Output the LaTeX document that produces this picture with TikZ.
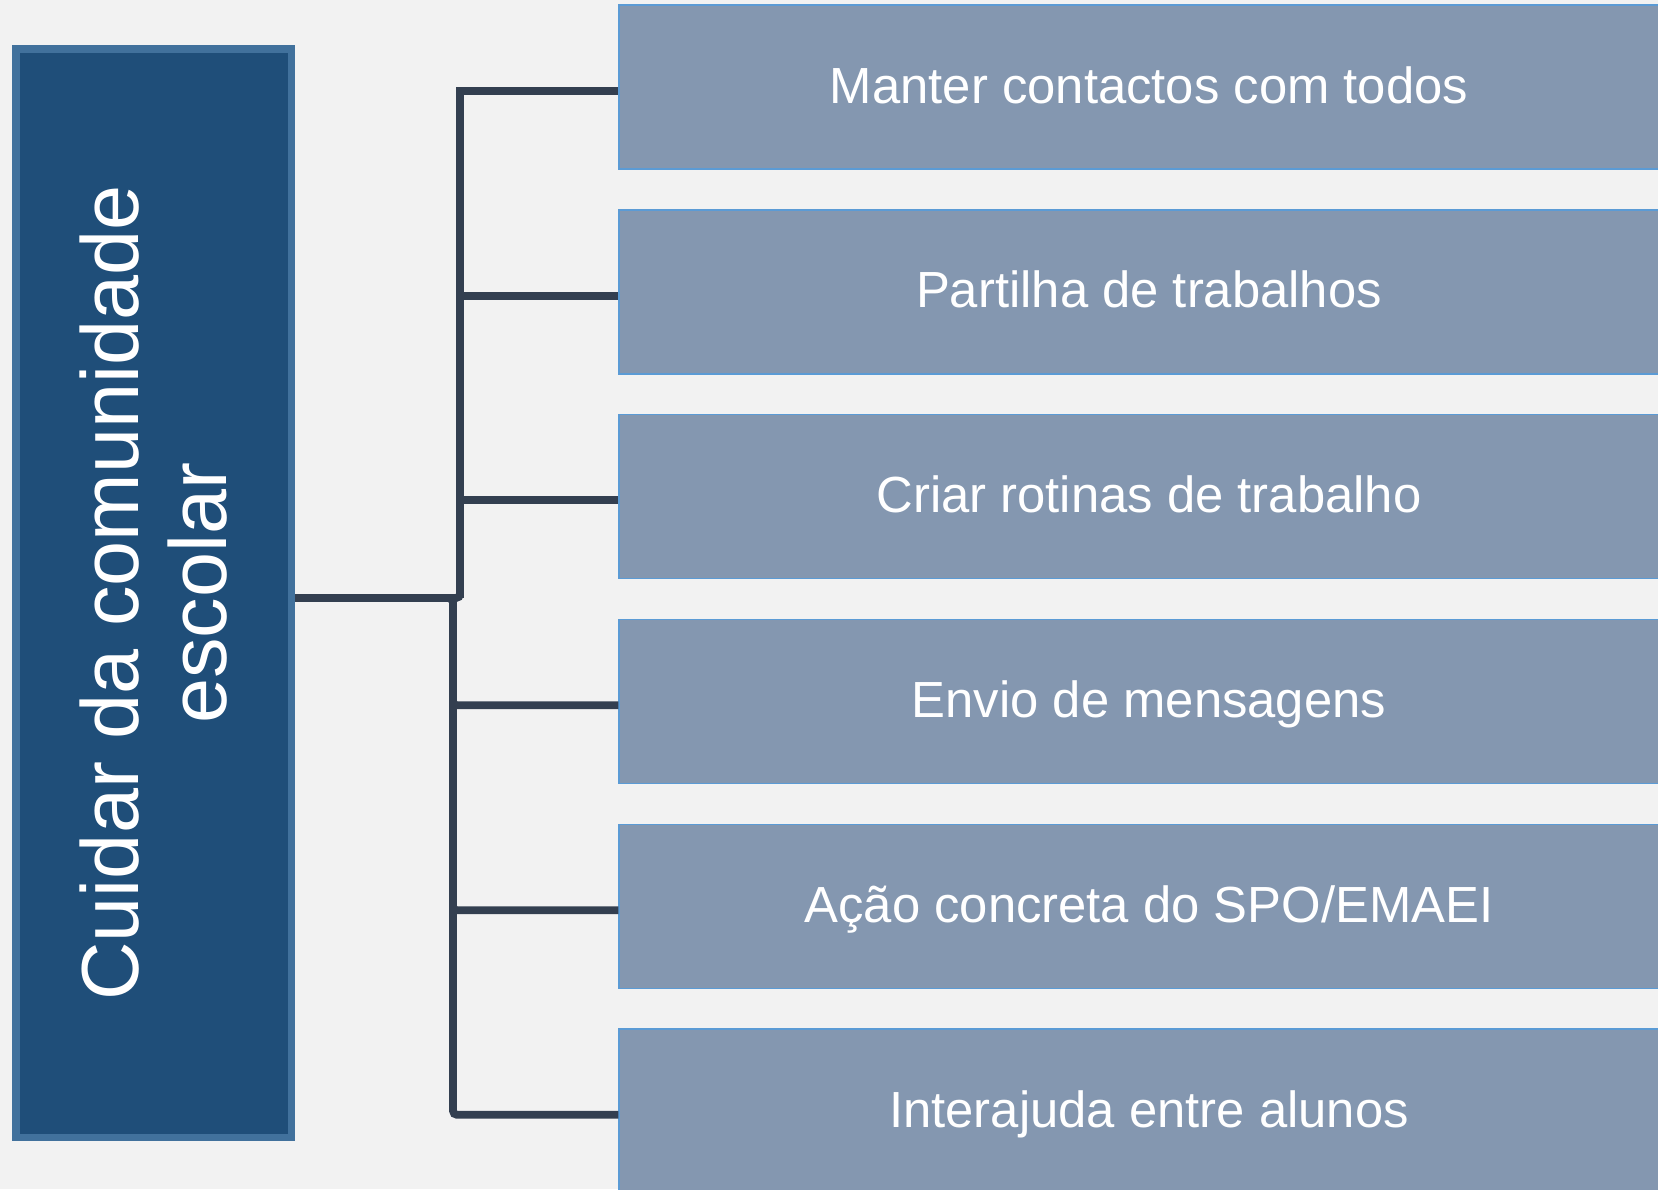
\documentclass[tikz,border=0pt]{standalone}
\usepackage{fontspec}
\setmainfont{Liberation Sans}
\usetikzlibrary{calc}
\definecolor{bg}{HTML}{F2F2F2}
\definecolor{rootfill}{HTML}{1F4E79}
\definecolor{rootdraw}{HTML}{41719C}
\definecolor{childfill}{HTML}{8497B0}
\definecolor{childdraw}{HTML}{5B9BD5}
\definecolor{conncol}{HTML}{333F50}
\begin{document}
\begin{tikzpicture}[x=0.5pt,y=-0.5pt,
  rootbox/.style={draw=rootdraw, fill=rootfill, line width=3.75pt,
    minimum width=544.25pt, minimum height=137.75pt, rotate=90,
    inner sep=0pt, text=white, align=center,
    font=\fontsize{40.5pt}{44pt}\selectfont},
  childbox/.style={draw=childdraw, fill=childfill, line width=0.75pt,
    minimum width=530pt, minimum height=82pt, inner sep=0pt,
    text=white, font=\fontsize{25.4pt}{30pt}\selectfont,
    text height=16pt, text depth=0pt},
  conn/.style={draw=conncol, line width=3.9pt},
  connr/.style={conn, rounded corners=2pt}]
\fill[bg] (0,0) rectangle (1658,1189);
\useasboundingbox (0,0) rectangle (1658,1189);
\clip (0,0) rectangle (1658,1189);

\node[rootbox] (root) at (153.5,593) {Cuidar da comunidade\\escolar};

\node[childbox] (c1) at (1149,87.2)   {Manter contactos com todos};
\node[childbox] (c2) at (1149,291.9)  {Partilha de trabalhos};
\node[childbox] (c3) at (1149,496.5)  {Criar rotinas de trabalho};
\node[childbox] (c4) at (1149,701.5)  {Envio de mensagens};
\node[childbox] (c5) at (1149,906.5)  {Ação concreta do SPO/EMAEI};
\node[childbox] (c6) at (1149,1111)   {Interajuda entre alunos};

\coordinate (jup) at (460,598);
\coordinate (jdn) at (453,598);

% upper branches: rounded turn at the junction, sharp turn at the top
\draw[connr] ($(root.south)+(0,5)$) -- (jup) -- ++(0,-20);
\foreach \k in {1,2,3}
  \draw[conn] (jup) |- ($(c\k.west)+(0,3.8)$);
% lower branches: rounded turns
\foreach \k in {4,5,6}
  \draw[connr] ($(root.south)+(0,5)$) -- (jdn) |- ($(c\k.west)+(0,3.8)$);
\end{tikzpicture}
\end{document}
